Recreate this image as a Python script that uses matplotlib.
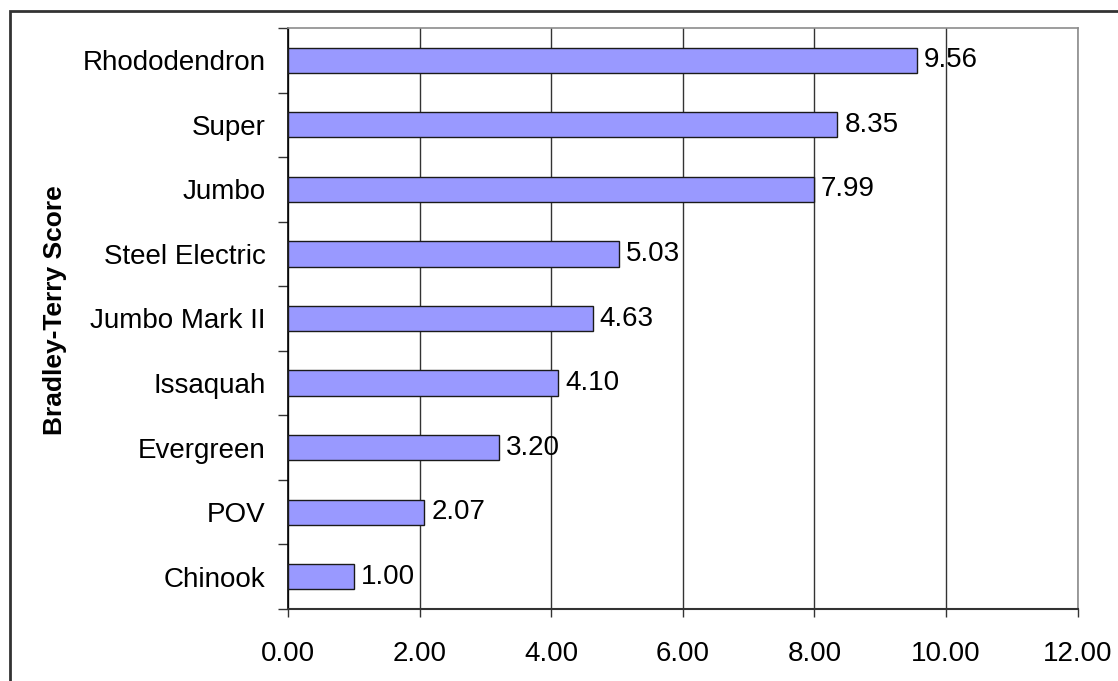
import matplotlib
matplotlib.use("Agg")
import matplotlib.pyplot as plt
from matplotlib.patches import Rectangle

# Bradley-Terry scores by ferry class
classes = ["Chinook", "POV", "Evergreen", "Issaquah", "Jumbo Mark II",
           "Steel Electric", "Jumbo", "Super", "Rhododendron"]
scores = [1.00, 2.07, 3.20, 4.10, 4.63, 5.03, 7.99, 8.35, 9.56]
x_ticks = [0, 2, 4, 6, 8, 10, 12]

plt.rcParams["font.family"] = ["Liberation Sans", "DejaVu Sans"]
FS = 20

W, H = 1118, 681
fig = plt.figure(figsize=(W / 100, H / 100), dpi=100)
fig.patch.set_facecolor("white")

# outer chart border (runs off the right and bottom edges)
fig.patches.append(Rectangle((10 / W, -0.05), 1.2, 1 - 11 / H + 0.05,
                             transform=fig.transFigure, fill=False,
                             edgecolor="#333333", linewidth=2.0, zorder=0))

left, right, top, bottom = 288 / W, 1077.5 / W, 1 - 28 / H, 1 - 609 / H
ax = fig.add_axes([left, bottom, right - left, top - bottom])

pos = list(range(len(classes)))
ax.barh(pos, scores, height=0.39, color="#9999FF", edgecolor="#1a1a1a",
        linewidth=1.0, zorder=3)

for p, v in zip(pos, scores):
    ax.text(v + 0.11, p, f"{v:.2f}", va="center", ha="left",
            fontsize=FS, color="black", zorder=4)

ax.set_xlim(0, 12)
ax.set_ylim(-0.5, len(classes) - 0.5)
ax.set_xticks(x_ticks)
ax.set_xticklabels([f"{t:.2f}" for t in x_ticks], fontsize=FS)
ax.xaxis.grid(True, color="#333333", linewidth=1.0, zorder=1)
ax.set_axisbelow(True)

# category labels centred on bars, tick marks between categories
ax.set_yticks(pos)
ax.set_yticklabels(classes, fontsize=FS)
ax.tick_params(axis="y", which="major", length=0, pad=16)
ax.set_yticks([p - 0.5 for p in pos] + [len(classes) - 0.5], minor=True)
ax.tick_params(axis="y", which="minor", length=7, width=1.0,
               color="#333333", direction="out")
ax.tick_params(axis="x", length=6, width=1.0, color="#333333",
               direction="out", pad=17)

for side in ("top", "right"):
    ax.spines[side].set_color("#8c8c8c")
    ax.spines[side].set_linewidth(1.2)
ax.spines["left"].set_color("black")
ax.spines["left"].set_linewidth(1.2)
ax.spines["bottom"].set_color("#333333")
ax.spines["bottom"].set_linewidth(1.5)

fig.text(55 / W, 1 - 310 / H, "Bradley-Terry Score", rotation=90,
         ha="center", va="center", fontsize=19, fontweight="bold")

fig.savefig("out.png", dpi=100)
